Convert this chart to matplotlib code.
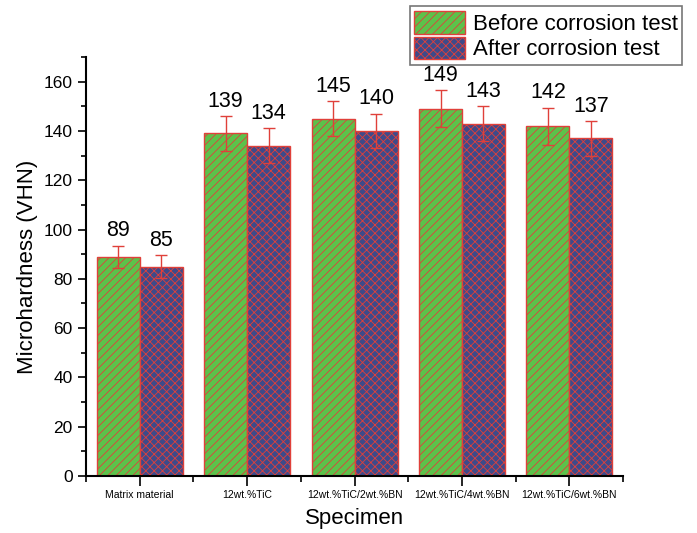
import numpy as np
import matplotlib
matplotlib.use("Agg")
import matplotlib.pyplot as plt
from matplotlib.patches import Patch
from matplotlib.ticker import MultipleLocator

plt.rcParams['font.family'] = ['Liberation Sans', 'DejaVu Sans']
plt.rcParams['hatch.linewidth'] = 0.6

specimens = ["Matrix material", "12wt.%TiC", "12wt.%TiC/2wt.%BN",
             "12wt.%TiC/4wt.%BN", "12wt.%TiC/6wt.%BN"]
before = [89, 139, 145, 149, 142]
after = [85, 134, 140, 143, 137]
before_err = [4.5, 7, 7, 7.5, 7.5]
after_err = [4.5, 7, 7, 7, 7]
series_names = ["Before corrosion test", "After corrosion test"]

green = "#5cc24a"
blue = "#3e4a8a"
red = "#e0403a"

fig = plt.figure(figsize=(6.97, 5.33), dpi=100)
ax = fig.add_axes([0.1234, 0.107, 0.7706, 0.786])

x = np.arange(len(specimens))
w = 0.4
ax.bar(x - w / 2, before, w, color=green, edgecolor=red, hatch="////",
       linewidth=1.0, zorder=2)
ax.bar(x + w / 2, after, w, color=blue, edgecolor=red, hatch="xxxx",
       linewidth=1.0, zorder=2)
ax.errorbar(x - w / 2, before, yerr=before_err, fmt="none", ecolor=red,
            elinewidth=1.0, capsize=4, capthick=1.0, zorder=3)
ax.errorbar(x + w / 2, after, yerr=after_err, fmt="none", ecolor=red,
            elinewidth=1.0, capsize=4, capthick=1.0, zorder=3)

for xi, v, e in zip(x - w / 2, before, before_err):
    ax.text(xi, v + e + 1.8, f"{v}", ha="center", va="bottom", fontsize=15.5)
for xi, v, e in zip(x + w / 2, after, after_err):
    ax.text(xi, v + e + 1.8, f"{v}", ha="center", va="bottom", fontsize=15.5)

ax.set_xlim(-0.5, 4.5)
ax.set_ylim(0, 170)
ax.yaxis.set_major_locator(MultipleLocator(20))
ax.yaxis.set_minor_locator(MultipleLocator(10))
ax.set_xticks(x)
ax.set_xticklabels(specimens, fontsize=7.5)
ax.set_xticks(np.arange(-0.5, 5.0, 1.0), minor=True)
ax.tick_params(axis="y", which="major", labelsize=12.5, length=6, width=1.2,
               direction="out")
ax.tick_params(axis="y", which="minor", length=3.5, width=1.2, direction="out")
ax.tick_params(axis="x", which="major", length=7, width=1.2, direction="out",
               pad=3)
ax.tick_params(axis="x", which="minor", length=4, width=1.2, direction="out")

for side in ("top", "right"):
    ax.spines[side].set_visible(False)
for side in ("left", "bottom"):
    ax.spines[side].set_linewidth(1.5)

ax.set_ylabel("Microhardness (VHN)", fontsize=16, labelpad=4)
ax.set_xlabel("Specimen", fontsize=16, labelpad=6)

handles = [Patch(facecolor=green, edgecolor=red, hatch="////", linewidth=1.0),
           Patch(facecolor=blue, edgecolor=red, hatch="xxxx", linewidth=1.0)]
leg = fig.legend(handles, series_names, loc="upper right",
                 bbox_to_anchor=(0.979, 0.988), fontsize=16, frameon=True,
                 fancybox=False, edgecolor="#555555", handlelength=2.3,
                 handleheight=1.2, handletextpad=0.35, borderpad=0.2,
                 labelspacing=0.08, borderaxespad=0.0)
leg.get_frame().set_linewidth(1.2)

fig.savefig("out.png", dpi=100)
